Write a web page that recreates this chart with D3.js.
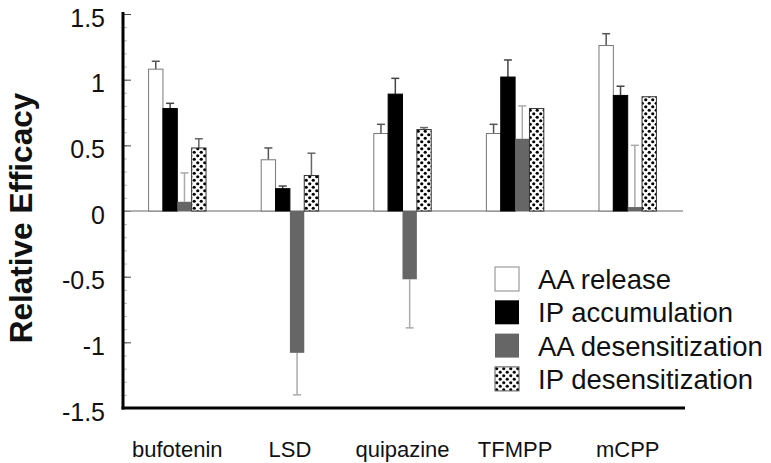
<!DOCTYPE html>
<html>
<head>
<meta charset="utf-8">
<script src="https://cdn.jsdelivr.net/npm/d3@7"></script>
<style>
  body { margin: 0; background: #fff; }
  svg { font-family: "Liberation Sans", Arial, Helvetica, sans-serif; }
</style>
</head>
<body>
<div id="chart"></div>
<script>
// drugs tested and the four response series
var drugs = ["bufotenin", "LSD", "quipazine", "TFMPP", "mCPP"];
var seriesNames = ["AA release", "IP accumulation", "AA desensitization", "IP desensitization"];
var aaRelease = [1.08, 0.39, 0.59, 0.59, 1.26];
var aaReleaseErr = [0.06, 0.09, 0.07, 0.07, 0.09];
var ipAccum = [0.78, 0.17, 0.89, 1.02, 0.88];
var ipAccumErr = [0.04, 0.02, 0.12, 0.13, 0.07];
var aaDesens = [0.07, -1.08, -0.52, 0.55, 0.03];
var aaDesensErr = [0.22, 0.32, 0.37, 0.25, 0.47];
var ipDesens = [0.48, 0.27, 0.62, 0.78, 0.87];
var ipDesensErr = [0.07, 0.17, 0.015, 0, 0];
var yTicks = [-1.5, -1, -0.5, 0, 0.5, 1, 1.5];
var yTickLabels = ["-1.5", "-1", "-0.5", "0", "0.5", "1", "1.5"];

function drawChart() {
    var width = 771, height = 463;
    var plotLeft = 123, plotRight = 684, plotTop = 14, plotBottom = 408;

    var svg = d3.select("#chart").append("svg")
        .attr("width", width)
        .attr("height", height);

    // dotted fill used for IP desensitization
    var pat = svg.append("defs").append("pattern")
        .attr("id", "dots")
        .attr("patternUnits", "userSpaceOnUse")
        .attr("width", 7).attr("height", 7);
    pat.append("rect").attr("width", 7).attr("height", 7).attr("fill", "#fff");
    pat.append("circle").attr("cx", 1.75).attr("cy", 1.75).attr("r", 1.6).attr("fill", "#000");
    pat.append("circle").attr("cx", 5.25).attr("cy", 5.25).attr("r", 1.6).attr("fill", "#000");

    var fills = ["#fff", "#000", "#666", "url(#dots)"];
    var strokes = ["#777", "#000", "none", "#333"];
    var errColors = ["#555", "#444", "#aaa", "#666"];

    var x = d3.scaleBand()
        .domain(drugs)
        .range([plotLeft - 2, plotRight])
        .paddingInner(0.49)
        .paddingOuter(0.245);

    var x1 = d3.scaleBand()
        .domain(seriesNames)
        .range([0, x.bandwidth()]);

    var y = d3.scaleLinear()
        .domain([-1.5, 1.5])
        .range([plotBottom, plotTop]);

    // one row per bar
    var values = [aaRelease, ipAccum, aaDesens, ipDesens];
    var errs = [aaReleaseErr, ipAccumErr, aaDesensErr, ipDesensErr];
    var rows = [];
    drugs.forEach(function(d, i) {
        seriesNames.forEach(function(s, j) {
            rows.push({drug: d, series: s, idx: j, value: values[j][i], err: errs[j][i]});
        });
    });

    // minor ticks every 0.1
    var minor = d3.range(-15, 16).map(function(k) { return k / 10; });
    svg.append("g")
        .attr("transform", "translate(" + plotLeft + ",0)")
        .call(d3.axisRight(y).tickValues(minor).tickSize(4).tickFormat(""))
        .call(function(g) {
            g.select(".domain").remove();
            g.selectAll("line").attr("stroke", "#bbb").attr("stroke-width", 1);
        });

    // major ticks
    svg.append("g")
        .attr("transform", "translate(" + plotLeft + ",0)")
        .call(d3.axisRight(y).tickValues(yTicks).tickSize(8).tickFormat(""))
        .call(function(g) {
            g.select(".domain").remove();
            g.selectAll("line").attr("stroke", "#444").attr("stroke-width", 1);
        });

    // y tick labels
    svg.append("g")
        .attr("transform", "translate(" + plotLeft + ",0)")
        .call(d3.axisLeft(y).tickValues(yTicks).tickSize(0).tickPadding(18)
            .tickFormat(function(d, i) { return yTickLabels[i]; }))
        .call(function(g) {
            g.select(".domain").remove();
            g.selectAll("text")
                .attr("font-size", 25)
                .attr("font-family", "Liberation Sans, Arial, sans-serif")
                .attr("fill", "#111")
                .attr("dy", "0.48em");
        });

    // zero line
    svg.append("line")
        .attr("x1", plotLeft).attr("x2", plotRight - 1)
        .attr("y1", y(0)).attr("y2", y(0))
        .attr("stroke", "#999").attr("stroke-width", 1.5);

    // error bars, drawn away from zero
    var eb = svg.append("g");
    rows.filter(function(d) { return d.err > 0; }).forEach(function(d) {
        var cx = x(d.drug) + x1(d.series) + x1.bandwidth() / 2;
        var sign = d.value >= 0 ? 1 : -1;
        var yEnd = y(d.value + sign * d.err);
        eb.append("line")
            .attr("x1", cx).attr("x2", cx)
            .attr("y1", y(d.value)).attr("y2", yEnd)
            .attr("stroke", errColors[d.idx]).attr("stroke-width", 1.5);
        eb.append("line")
            .attr("x1", cx - 4).attr("x2", cx + 4)
            .attr("y1", yEnd).attr("y2", yEnd)
            .attr("stroke", errColors[d.idx]).attr("stroke-width", 1.5);
    });

    // bars
    svg.append("g").selectAll("rect")
        .data(rows)
        .enter()
        .append("rect")
        .attr("x", function(d) { return x(d.drug) + x1(d.series); })
        .attr("y", function(d) { return y(Math.max(0, d.value)); })
        .attr("width", x1.bandwidth())
        .attr("height", function(d) { return Math.abs(y(d.value) - y(0)); })
        .attr("fill", function(d) { return fills[d.idx]; })
        .attr("stroke", function(d) { return strokes[d.idx]; })
        .attr("stroke-width", 1);

    // thick axis lines
    svg.append("line")
        .attr("x1", plotLeft).attr("x2", plotLeft)
        .attr("y1", plotTop - 2).attr("y2", plotBottom + 1.5)
        .attr("stroke", "#000").attr("stroke-width", 3);
    svg.append("line")
        .attr("x1", plotLeft - 1.5).attr("x2", plotRight + 1)
        .attr("y1", plotBottom).attr("y2", plotBottom)
        .attr("stroke", "#000").attr("stroke-width", 3);

    // category labels
    svg.append("g")
        .attr("transform", "translate(0," + plotBottom + ")")
        .call(d3.axisBottom(x).tickSize(0).tickPadding(33))
        .call(function(g) {
            g.select(".domain").remove();
            g.selectAll("text")
                .attr("font-size", 22)
                .attr("font-family", "Liberation Sans, Arial, sans-serif")
                .attr("fill", "#111");
        });

    // y axis title
    svg.append("text")
        .attr("transform", "translate(32,218) rotate(-90)")
        .attr("text-anchor", "middle")
        .attr("font-size", 31.5)
        .attr("font-weight", "bold")
        .attr("fill", "#111")
        .text("Relative Efficacy");

    // legend
    var legend = svg.append("g").attr("transform", "translate(495,267)");
    seriesNames.forEach(function(s, i) {
        var g = legend.append("g").attr("transform", "translate(0," + (i * 33.3) + ")");
        g.append("rect")
            .attr("width", 24).attr("height", 24)
            .attr("fill", fills[i])
            .attr("stroke", i === 0 ? "#888" : (i === 3 ? "#555" : "none"))
            .attr("stroke-width", 1);
        g.append("text")
            .attr("x", 43).attr("y", 22)
            .attr("font-size", 27.5)
            .attr("fill", "#111")
            .text(s);
    });
}

drawChart();
</script>
</body>
</html>
